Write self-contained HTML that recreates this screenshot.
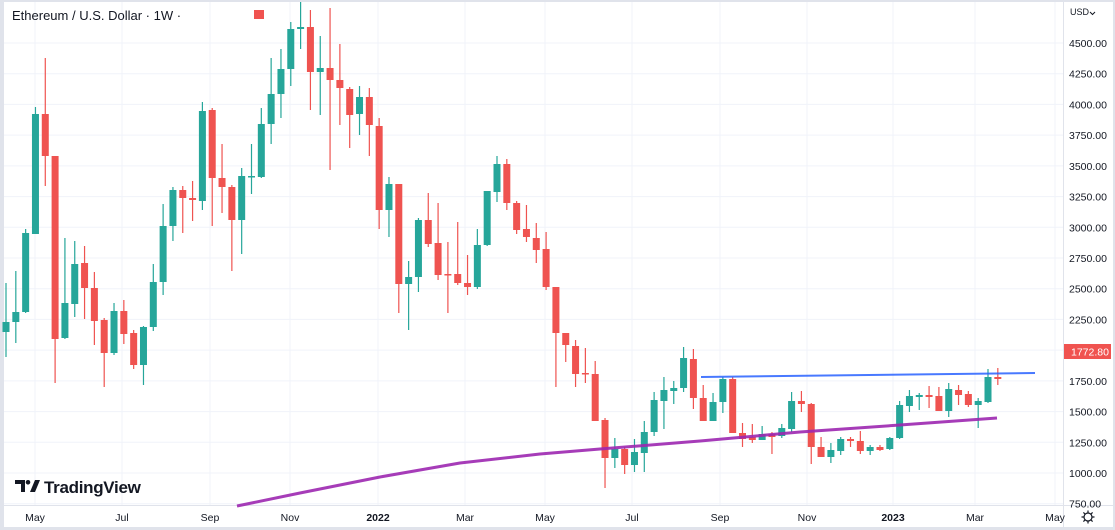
<!DOCTYPE html>
<html><head><meta charset="utf-8"><style>
html,body{margin:0;padding:0;background:#fff;}
body{width:1115px;height:530px;overflow:hidden;font-family:"Liberation Sans",sans-serif;}
</style></head><body>
<svg id="s" width="1115" height="530" xmlns="http://www.w3.org/2000/svg" style="position:absolute;left:0;top:0">
<rect x="0" y="0" width="1115" height="530" fill="#e0e3eb"/>
<rect x="4" y="2" width="1109" height="525" fill="#ffffff"/>
<g id="grid" stroke="#f0f3fa" stroke-width="1"></g>
<line x1="1063.5" y1="2" x2="1063.5" y2="527" stroke="#e0e3eb"/>
<line x1="4" y1="505.5" x2="1113" y2="505.5" stroke="#e0e3eb"/>
<g id="c"></g>
<path d="M237,506 L300,493 L380,477 L460,463 L540,454 L600,449 L700,441 L800,432 L900,425 L997,418" fill="none" stroke="#9c27b0" stroke-width="3" stroke-linejoin="round" opacity="0.9"/>
<line x1="701" y1="377" x2="1035" y2="373" stroke="#2962ff" stroke-width="2" opacity="0.85"/>
<g id="ax" font-size="10.5" fill="#131722"></g>
<rect x="1064" y="344" width="47" height="15" fill="#f05350"/>
<text x="1071" y="355.5" font-size="10.5" fill="#fff">1772.80</text>
<text x="1070" y="15" font-size="9" fill="#131722">USD</text>
<path d="M1090,12 l2.5,2.5 l2.5,-2.5" fill="none" stroke="#131722"/>
<text x="12" y="20" font-size="13" fill="#131722">Ethereum / U.S. Dollar · 1W · </text>
<rect x="254" y="10" width="10" height="9" fill="#f05350"/>
<g transform="translate(15,480)">
<path d="M0,0 h10 v12 h-4 v-8 h-6z" fill="#131722"/>
<circle cx="13" cy="2.3" r="2.3" fill="#131722"/>
<path d="M15,12 l5,-12 h5 l-5,12z" fill="#131722"/>
</g>
<text x="44" y="493" font-size="17" font-weight="bold" fill="#131722" letter-spacing="-0.3">TradingView</text>
<g transform="translate(1088,517)" fill="none" stroke="#131722" stroke-width="1.2">
<circle r="4"/>
<path d="M0,-6.5V-4.5M0,4.5V6.5M-6.5,0H-4.5M4.5,0H6.5M-4.6,-4.6l1.4,1.4M3.2,3.2l1.4,1.4M-4.6,4.6l1.4,-1.4M3.2,-3.2l1.4,-1.4"/>
</g>
</svg>
<script>
var NS="http://www.w3.org/2000/svg";
function el(p,t,a,txt){var e=document.createElementNS(NS,t);for(var k in a)e.setAttribute(k,a[k]);if(txt)e.textContent=txt;document.getElementById(p).appendChild(e);return e;}
// grid + price labels
for(var p=750;p<=4500;p+=250){var y=43+(4500-p)*0.122857;
 el("grid","line",{x1:4,y1:y,x2:1063,y2:y});
 el("ax","text",{x:1069,y:y+4},p.toFixed(2));}
var months=[[35,"May"],[122,"Jul"],[210,"Sep"],[290,"Nov"],[378,"2022"],[465,"Mar"],[545,"May"],[632,"Jul"],[720,"Sep"],[807,"Nov"],[893,"2023"],[975,"Mar"],[1055,"May"]];
months.forEach(function(m){el("grid","line",{x1:m[0],y1:2,x2:m[0],y2:505});
 el("ax","text",{x:m[0],y:521,"text-anchor":"middle","font-weight":(m[1]=="2022"||m[1]=="2023")?"bold":"normal"},m[1]);});
// candles: [color g/r, bodyTop, bodyBottom, high, low]
var d=[
["g",322,332,283,357],["g",312,322,271,343],["g",233,312,229,313],["g",114,234,107,234],["r",114,156,58,186],["r",156,339,156,383],["g",303,338,238,339],["g",264,304,241,317],["r",263,288,246,319],["r",288,321,272,345],
["r",320,353,318,387],["g",311,353,303,355],["r",311,334,300,344],["r",333,365,330,369],["g",327,365,326,385],["g",282,327,264,331],["g",226,282,204,295],["g",190,226,187,241],["r",190,198,186,233],["r",198,200,181,221],
["g",111,201,102,210],["r",110,178,108,226],["r",178,187,144,213],["r",187,220,185,271],["g",176,220,168,254],["g",176,177,144,194],["g",124,177,108,178],["g",94,124,58,144],["g",69,94,49,118],["g",29,69,22,86],
["g",27,29,2,49],["r",27,72,10,110],["g",68,72,36,115],["r",68,80,8,170],["r",80,88,44,125],["r",89,115,87,148],["g",97,114,86,135],["r",97,125,88,156],["r",126,210,118,229],["g",184,210,177,237],
["r",184,284,184,313],["g",277,284,261,330],["g",220,277,218,292],["r",220,244,193,247],["r",243,275,203,280],["r",274,275,242,313],["r",274,283,222,285],["r",283,287,255,295],["g",245,287,229,289],["g",191,245,191,246],
["g",164,192,156,202],["r",164,203,159,210],["r",203,230,201,234],["r",229,237,205,242],["r",238,250,223,263],["r",249,287,232,290],["r",287,333,287,387],["r",333,345,333,362],["r",346,374,340,387],["r",373,374,348,383],
["r",374,421,361,421],["r",420,458,418,488],["g",449,458,438,468],["r",449,465,447,474],["g",452,465,439,472],["g",432,453,421,472],["g",400,432,392,436],["g",390,401,377,429],["g",388,391,381,404],["g",358,388,347,392],
["r",359,398,349,409],["r",398,421,385,421],["g",402,421,393,421],["g",379,402,377,413],["r",379,433,377,433],["r",433,439,423,447],["r",437,440,424,443],["g",434,440,426,440],["r",434,437,432,454],["g",428,436,424,438],
["g",401,429,392,432],["r",401,404,391,412],["r",404,447,403,464],["r",447,457,437,457],["g",450,457,443,463],["g",439,451,437,455],["r",439,441,437,447],["r",441,451,431,454],["g",447,451,445,455],["r",447,450,445,451],
["g",438,449,437,450],["g",405,438,401,439],["g",396,406,390,412],["g",395,397,393,410],["r",395,397,386,408],["r",396,411,387,411],["g",389,411,383,417],["r",390,395,385,405],["r",394,405,391,407],["g",401,405,398,428],
["g",377,402,369,403],["r",377,379,368,385]];
d.forEach(function(c,i){var x=6+i*9.82;var col=c[0]=="g"?"#26a69a":"#ef5350";
 el("c","line",{x1:x,y1:c[3],x2:x,y2:c[4],stroke:col,"stroke-width":1.2});
 var h=Math.max(1.5,c[2]-c[1]);
 el("c","rect",{x:x-3.5,y:c[1],width:7,height:h,fill:col});});
</script>
</body></html>
